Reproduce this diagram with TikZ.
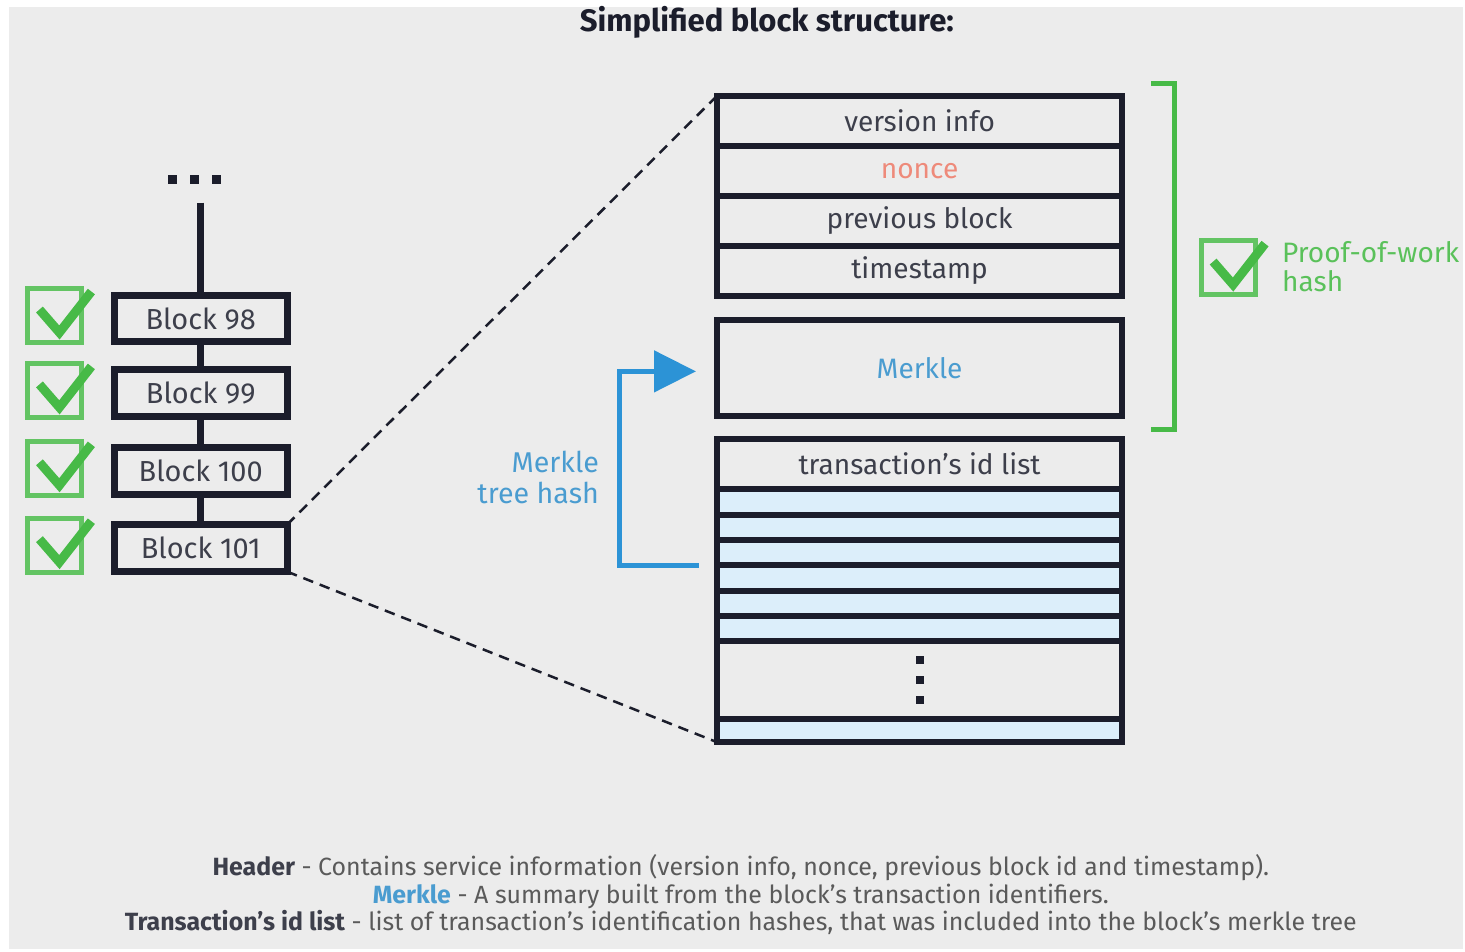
\documentclass[tikz,border=0pt]{standalone}
\usepackage{fontspec}
\setmainfont{Fira Sans}
\usetikzlibrary{positioning,arrows.meta,calc}
\definecolor{bggray}{HTML}{ECECEC}
\definecolor{navy}{HTML}{1B1D2B}
\definecolor{okgreen}{HTML}{47BA47}
\definecolor{mblue}{HTML}{2C93D6}
\definecolor{mtext}{HTML}{4A9CD0}
\definecolor{rowblue}{HTML}{DCEEFA}
\definecolor{salmon}{HTML}{EE8A7A}
\definecolor{notegray}{HTML}{5A5A5A}
\tikzset{>=latex,
  blk/.style={draw=navy, line width=0.14cm, minimum width=3.46cm, minimum height=0.94cm,
    inner sep=0pt, outer sep=0pt, text=navy!85, font=\fontsize{16.5}{18}\selectfont},
  field/.style={draw=navy, line width=0.12cm, minimum width=8.12cm, minimum height=1cm,
    inner sep=0pt, outer sep=0pt, text=navy!85, font=\fontsize{16}{18}\selectfont},
  txrow/.style={field, fill=rowblue, minimum height=0.508cm},
  chk/.pic={
    \draw[okgreen!85, line width=0.1cm] (-27,-27) rectangle (27,27);
    \draw[okgreen, line width=0.18cm] (-15,-6) -- (5,17) -- (37,-24);
  }
}
\begin{document}
\begin{tikzpicture}[x=0.02cm, y=-0.02cm]
  \fill[white] (0,0) rectangle (1465,953);
  \fill[bggray] (9,7) rectangle (1465,950);
  \node[font=\fontsize{17.7}{20}\selectfont\bfseries, text=navy] (title) at (768,22) {Simplified block structure:};

  % chain of blocks
  \foreach \x in {173,195,217} \fill[navy] (\x-4.5,175.5) rectangle (\x+4.5,184.5);
  \coordinate (top) at (201,203);
  \node[blk] (b98) at (201,319) {Block 98};
  \node[blk] (b99) at (201,394) {Block 99};
  \node[blk] (b100) at (201,472) {Block 100};
  \node[blk] (b101) at (201,549) {Block 101};
  \draw[navy, line width=0.15cm] (top) -- (b98.north);
  \draw[navy, line width=0.15cm] (b98) -- (b99) (b99) -- (b100) (b100) -- (b101);
  \foreach \b in {b98,b99,b100,b101} \pic at ($(\b.west)+(-60,-3)$) {chk};

  % header
  \node[field] (ver) at (921,121) {version info};
  \node[field, below=0pt of ver, text=salmon] (nonce) {nonce};
  \node[field, below=0pt of nonce] (prev) {previous block};
  \node[field, below=0pt of prev] (time) {timestamp};
  \node[field, below=0.5cm of time, minimum height=1.92cm, text=mtext] (mrk) {Merkle};

  % transaction list
  \node[field, below=0.46cm of mrk] (txh) {transaction's id list};
  \foreach \i/\p in {1/txh,2/r1,3/r2,4/r3,5/r4,6/r5}
    \node[txrow, below=0pt of \p] (r\i) {};
  \node[field, below=0pt of r6, minimum height=1.56cm] (gap) {};
  \node[txrow, below=0pt of gap, minimum height=0.46cm] (r7) {};
  \foreach \y in {-20,0,20} \fill[navy] ($(gap.center)+(-4,\y-4)$) rectangle ++(8,8);

  \draw[navy, line width=0.05cm, dash pattern=on 6pt off 4pt] (b101.north east) -- (ver.north west);
  \draw[navy, line width=0.05cm, dash pattern=on 6pt off 4pt] (b101.south east) -- (r7.south west);

  % merkle tree hash
  \coordinate (mstart) at ($(r3.south west)+(-18,0)$);
  \coordinate (mend) at ($(mrk.west)+(-21,3)$);
  \draw[mblue, line width=0.1cm, -{Triangle[length=0.84cm, width=0.82cm]}]
    (mstart) -- ++(-80,0) |- (mend);
  \node[anchor=east, align=right, text=mtext, font=\fontsize{16.3}{17.6}\selectfont] (mlbl) at (606,478) {Merkle\\tree hash};

  % proof of work
  \draw[okgreen, line width=0.1cm] (1153,84) -- (1176,84) -- (1176,430) -- (1153,430);
  \pic at (1230,268) {chk};
  \node[anchor=west, align=left, text=okgreen!90, font=\fontsize{16}{17}\selectfont] (pow) at (1278,267) {Proof-of-work\\hash};

  % notes
  \node[align=center, text=notegray, font=\fontsize{14.2}{15.9}\selectfont] (notes) at (742,896)
    {{\color{navy!85}\bfseries Header} - Contains service information (version info, nonce, previous block id and timestamp).\\
     {\color{mtext}\bfseries Merkle} - A summary built from the block's transaction identifiers.\\
     {\color{navy!85}\bfseries Transaction's id list} - list of transaction's identification hashes, that was included into the block's merkle tree};
\end{tikzpicture}
\end{document}
